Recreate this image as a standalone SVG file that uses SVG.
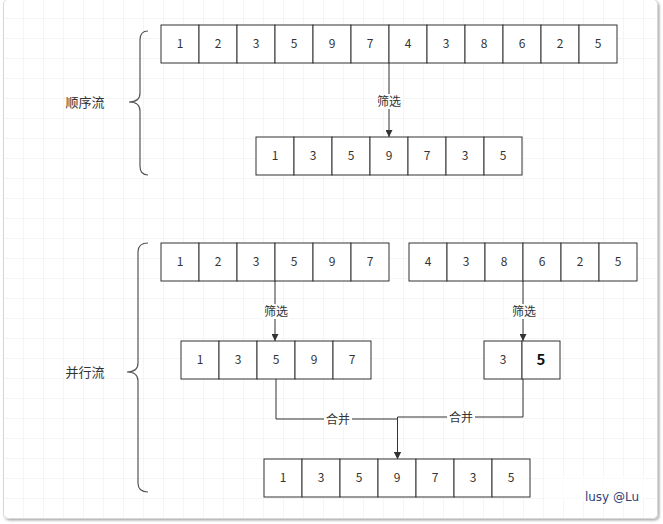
<svg xmlns="http://www.w3.org/2000/svg" width="663" height="524" viewBox="0 0 663 524">
<defs>
<pattern id="grid" x="3" y="18" width="20" height="20" patternUnits="userSpaceOnUse">
<path d="M0 0H20M0 0V20" fill="none" stroke="#ebebeb" stroke-width="1"/>
</pattern>
<marker id="arr" viewBox="0 0 10 10" refX="10" refY="5" markerWidth="7" markerHeight="7" orient="auto" markerUnits="userSpaceOnUse">
<path d="M0 0L10 5L0 10Z" fill="#333"/>
</marker>
<filter id="sh" x="-5%" y="-5%" width="110%" height="110%">
<feDropShadow dx="1.5" dy="1.5" stdDeviation="1.2" flood-color="#888" flood-opacity="0.7"/>
</filter>
</defs>
<style>
.cell{fill:#fff;stroke:#333;stroke-width:1}
.num{font-family:"Noto Sans CJK SC","Liberation Sans",sans-serif;font-size:12px;fill:#333;text-anchor:middle}
.lbl{font-family:"Noto Sans CJK SC","Liberation Sans",sans-serif;font-size:12px;fill:#333;text-anchor:middle}
.side{font-family:"Noto Sans CJK SC","Liberation Sans",sans-serif;font-size:13px;fill:#333;text-anchor:middle}
.edge{fill:none;stroke:#333;stroke-width:1}
.brace{fill:none;stroke:#555;stroke-width:1.2}
.lblbg{fill:#fff}
</style>
<rect x="0" y="0" width="663" height="524" fill="#fff"/>
<rect x="3" y="0" width="655" height="519" rx="5" fill="#fff" filter="url(#sh)"/>
<rect x="3" y="0" width="655" height="519" rx="5" fill="url(#grid)"/>
<rect x="3.5" y="-1" width="654" height="519.5" rx="5" fill="none" stroke="#d8d8d8" stroke-width="1"/>

<g id="label-seq">
<path class="brace" d="M148 31 Q140 31 140 40 L140 93 Q140 102 129 102 Q140 102 140 111 L140 166 Q140 175 148 175"/>
<text class="side" x="85" y="107">顺序流</text>
</g>
<g id="label-par">
<path class="brace" d="M148 243 Q138 243 138 252 L138 363 Q138 372 127 372 Q138 372 138 381 L138 483 Q138 492 148 492"/>
<text class="side" x="85" y="377">并行流</text>
</g>

<g id="seq-source">
<rect class="cell" x="161" y="25" width="38" height="38"/><text class="num" x="180" y="48">1</text>
<rect class="cell" x="199" y="25" width="38" height="38"/><text class="num" x="218" y="48">2</text>
<rect class="cell" x="237" y="25" width="38" height="38"/><text class="num" x="256" y="48">3</text>
<rect class="cell" x="275" y="25" width="38" height="38"/><text class="num" x="294" y="48">5</text>
<rect class="cell" x="313" y="25" width="38" height="38"/><text class="num" x="332" y="48">9</text>
<rect class="cell" x="351" y="25" width="38" height="38"/><text class="num" x="370" y="48">7</text>
<rect class="cell" x="389" y="25" width="38" height="38"/><text class="num" x="408" y="48">4</text>
<rect class="cell" x="427" y="25" width="38" height="38"/><text class="num" x="446" y="48">3</text>
<rect class="cell" x="465" y="25" width="38" height="38"/><text class="num" x="484" y="48">8</text>
<rect class="cell" x="503" y="25" width="38" height="38"/><text class="num" x="522" y="48">6</text>
<rect class="cell" x="541" y="25" width="38" height="38"/><text class="num" x="560" y="48">2</text>
<rect class="cell" x="579" y="25" width="38" height="38"/><text class="num" x="598" y="48">5</text>
</g>

<g id="seq-result">
<rect class="cell" x="256" y="137" width="38" height="38"/><text class="num" x="275" y="160">1</text>
<rect class="cell" x="294" y="137" width="38" height="38"/><text class="num" x="313" y="160">3</text>
<rect class="cell" x="332" y="137" width="38" height="38"/><text class="num" x="351" y="160">5</text>
<rect class="cell" x="370" y="137" width="38" height="38"/><text class="num" x="389" y="160">9</text>
<rect class="cell" x="408" y="137" width="38" height="38"/><text class="num" x="427" y="160">7</text>
<rect class="cell" x="446" y="137" width="38" height="38"/><text class="num" x="465" y="160">3</text>
<rect class="cell" x="484" y="137" width="38" height="38"/><text class="num" x="503" y="160">5</text>
</g>

<g id="par-left-source">
<rect class="cell" x="161" y="243" width="38" height="38"/><text class="num" x="180" y="266">1</text>
<rect class="cell" x="199" y="243" width="38" height="38"/><text class="num" x="218" y="266">2</text>
<rect class="cell" x="237" y="243" width="38" height="38"/><text class="num" x="256" y="266">3</text>
<rect class="cell" x="275" y="243" width="38" height="38"/><text class="num" x="294" y="266">5</text>
<rect class="cell" x="313" y="243" width="38" height="38"/><text class="num" x="332" y="266">9</text>
<rect class="cell" x="351" y="243" width="38" height="38"/><text class="num" x="370" y="266">7</text>
</g>

<g id="par-right-source">
<rect class="cell" x="409" y="243" width="38" height="38"/><text class="num" x="428" y="266">4</text>
<rect class="cell" x="447" y="243" width="38" height="38"/><text class="num" x="466" y="266">3</text>
<rect class="cell" x="485" y="243" width="38" height="38"/><text class="num" x="504" y="266">8</text>
<rect class="cell" x="523" y="243" width="38" height="38"/><text class="num" x="542" y="266">6</text>
<rect class="cell" x="561" y="243" width="38" height="38"/><text class="num" x="580" y="266">2</text>
<rect class="cell" x="599" y="243" width="38" height="38"/><text class="num" x="618" y="266">5</text>
</g>

<g id="par-left-filtered">
<rect class="cell" x="181" y="341" width="38" height="38"/><text class="num" x="200" y="364">1</text>
<rect class="cell" x="219" y="341" width="38" height="38"/><text class="num" x="238" y="364">3</text>
<rect class="cell" x="257" y="341" width="38" height="38"/><text class="num" x="276" y="364">5</text>
<rect class="cell" x="295" y="341" width="38" height="38"/><text class="num" x="314" y="364">9</text>
<rect class="cell" x="333" y="341" width="38" height="38"/><text class="num" x="352" y="364">7</text>
</g>

<g id="par-right-filtered">
<rect class="cell" x="484" y="341" width="38" height="38"/><text class="num" x="503" y="364">3</text>
<rect class="cell" x="522" y="341" width="38" height="38"/><text class="num" x="541" y="365" style="font-weight:bold;font-size:15px;fill:#111">5</text>
</g>

<g id="par-result">
<rect class="cell" x="264" y="459" width="38" height="38"/><text class="num" x="283" y="482">1</text>
<rect class="cell" x="302" y="459" width="38" height="38"/><text class="num" x="321" y="482">3</text>
<rect class="cell" x="340" y="459" width="38" height="38"/><text class="num" x="359" y="482">5</text>
<rect class="cell" x="378" y="459" width="38" height="38"/><text class="num" x="397" y="482">9</text>
<rect class="cell" x="416" y="459" width="38" height="38"/><text class="num" x="435" y="482">7</text>
<rect class="cell" x="454" y="459" width="38" height="38"/><text class="num" x="473" y="482">3</text>
<rect class="cell" x="492" y="459" width="38" height="38"/><text class="num" x="511" y="482">5</text>
</g>

<g id="connectors">
<path class="edge" d="M389 63 V137" marker-end="url(#arr)"/>
<rect class="lblbg" x="375" y="94" width="28" height="15"/>
<text class="lbl" x="389" y="106">筛选</text>

<path class="edge" d="M275 281 V341" marker-end="url(#arr)"/>
<rect class="lblbg" x="262" y="304" width="28" height="15"/>
<text class="lbl" x="276" y="316">筛选</text>

<path class="edge" d="M523 281 V341" marker-end="url(#arr)"/>
<rect class="lblbg" x="510" y="304" width="28" height="15"/>
<text class="lbl" x="524" y="316">筛选</text>

<path class="edge" d="M276 379 V419 H397.5 V459" marker-end="url(#arr)"/>
<path class="edge" d="M523 379 V417 H397.5 V459" marker-end="url(#arr)"/>
<rect class="lblbg" x="324" y="412" width="28" height="15"/>
<text class="lbl" x="338" y="424">合并</text>
<rect class="lblbg" x="447" y="410" width="28" height="15"/>
<text class="lbl" x="461" y="422">合并</text>
</g>

<rect x="545" y="476" width="100" height="24" fill="#fff" opacity="0.6"/>
<text x="612" y="501" style="font-family:'DejaVu Sans',sans-serif;font-size:12px;fill:#2f3f7a;text-anchor:middle">lusy @Lu</text>
</svg>
